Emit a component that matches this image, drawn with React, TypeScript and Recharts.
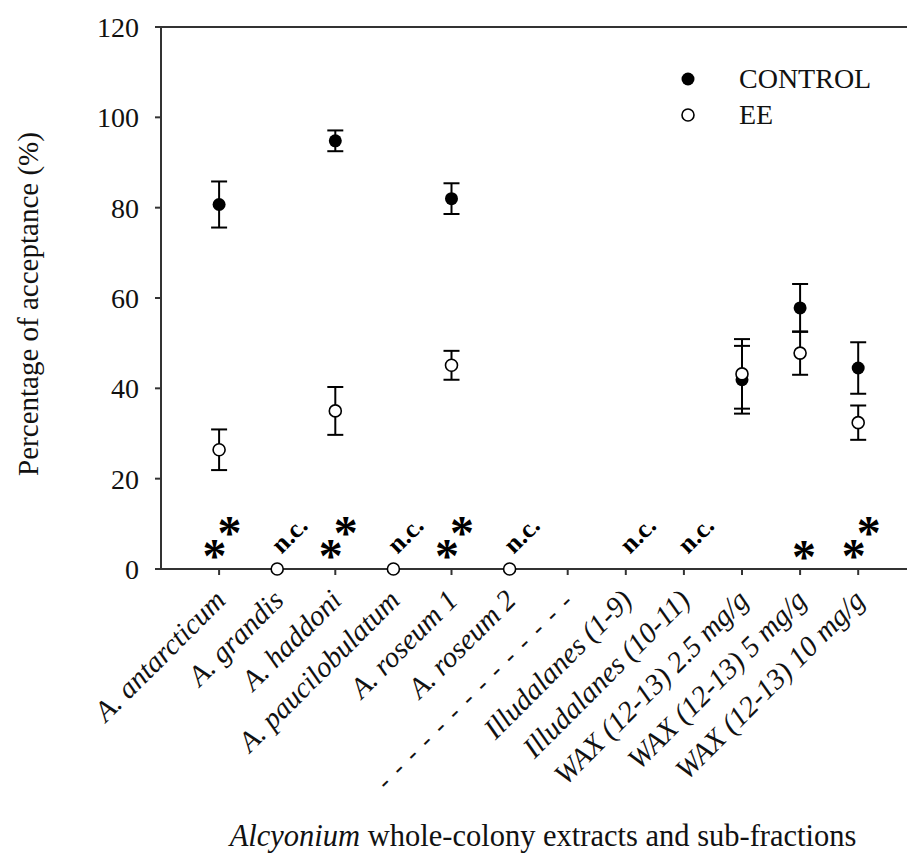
import React from 'react';
import { ScatterChart, Scatter, XAxis, YAxis, ErrorBar, ReferenceLine } from 'recharts';

const categories = [
  'A. antarcticum',
  'A. grandis',
  'A. haddoni',
  'A. paucilobulatum',
  'A. roseum 1',
  'A. roseum 2',
  '- - - - - - - - - - - - - -',
  'Illudalanes (1-9)',
  'Illudalanes (10-11)',
  'WAX (12-13) 2.5 mg/g',
  'WAX (12-13) 5 mg/g',
  'WAX (12-13) 10 mg/g',
];

const controlIdx = [0, 2, 4, 9, 10, 11];
const controlMean = [80.7, 94.8, 82.0, 41.9, 57.8, 44.5];
const controlSe = [5.1, 2.3, 3.4, 7.5, 5.3, 5.7];

const eeIdx = [0, 1, 2, 3, 4, 5, 9, 10, 11];
const eeMean = [26.4, 0, 35.0, 0, 45.1, 0, 43.2, 47.8, 32.4];
const eeSe = [4.5, 0, 5.3, 0, 3.2, 0, 7.7, 4.8, 3.8];

// significance marks above the x axis
const marks = ['**', 'n.c.', '**', 'n.c.', '**', 'n.c.', '', 'n.c.', 'n.c.', '', '*', '**'];

const yTicks = [0, 20, 40, 60, 80, 100, 120];
const xTicks = categories.map((_, i) => i);

const controlData = controlIdx.map((x, i) => ({ x, y: controlMean[i], se: controlSe[i] }));
const eeData = eeIdx.map((x, i) => ({ x, y: eeMean[i], se: eeSe[i] }));
const markData = marks.map((m, i) => ({ x: i, y: 0, mark: m })).filter(d => d.mark);

const serif = '"Liberation Serif", "Times New Roman", serif';

const CategoryTick = ({ x, y, payload }: any) => {
  const label = categories[payload.value];
  const ax = x + 8;
  const ay = y + 25;
  const isDash = payload.value === 6;
  return (
    <text
      x={ax}
      y={ay}
      transform={`rotate(-45, ${ax}, ${ay})`}
      textAnchor="end"
      fontFamily={serif}
      fontStyle="italic"
      fontSize={isDash ? 27 : 29}
      letterSpacing={isDash ? 2 : 0}
      fill="#111"
    >
      {label}
    </text>
  );
};

const FilledDot = ({ cx, cy }: any) => <circle cx={cx} cy={cy} r={6.5} fill="#000" />;
const OpenDot = ({ cx, cy }: any) => (
  <circle cx={cx} cy={cy} r={6} fill="#fff" stroke="#000" strokeWidth={1.6} />
);

const MarkShape = ({ cx, cy, payload }: any) => {
  const m = payload.mark;
  if (m === 'n.c.') {
    const tx = cx + 12;
    const ty = cy - 34;
    return (
      <text x={tx} y={ty} transform={`rotate(-45, ${tx}, ${ty})`} textAnchor="middle"
        dominantBaseline="central" fontFamily={serif} fontWeight="bold" fontSize={26} fill="#000">
        n.c.
      </text>
    );
  }
  if (m === '*') {
    return (
      <text x={cx + 4} y={cy + 4} textAnchor="middle" fontFamily={serif} fontWeight="bold" fontSize={48} fill="#000">*</text>
    );
  }
  return (
    <text x={cx + 3} y={cy + 3} textAnchor="middle" fontFamily={serif} fontWeight="bold" fontSize={48} fill="#000">
      *<tspan dx={-9} dy={-23}>*</tspan>
    </text>
  );
};

const LegendBox = () => (
  <div style={{ position: 'absolute', left: 675, top: 61, fontFamily: serif, fontSize: 28, color: '#111', lineHeight: '36px' }}>
    <div style={{ display: 'flex', alignItems: 'center' }}>
      <svg width={64} height={36}><circle cx={13} cy={18} r={6.5} fill="#000" /></svg>
      <span>CONTROL</span>
    </div>
    <div style={{ display: 'flex', alignItems: 'center' }}>
      <svg width={64} height={36}><circle cx={13} cy={18} r={6} fill="#fff" stroke="#000" strokeWidth={1.6} /></svg>
      <span>EE</span>
    </div>
  </div>
);

const YTitle = ({ viewBox }: any) => {
  const cx = 38;
  const cy = viewBox.y + viewBox.height / 2 + 6;
  return (
    <text x={cx} y={cy} transform={`rotate(-90, ${cx}, ${cy})`} textAnchor="middle"
      fontFamily={serif} fontSize={29} fill="#111">
      Percentage of acceptance (%)
    </text>
  );
};

const XTitle = ({ viewBox }: any) => (
  <text x={viewBox.x + viewBox.width / 2 + 9} y={viewBox.y + 277} textAnchor="middle"
    fontFamily={serif} fontSize={30.5} fill="#111">
    <tspan fontStyle="italic">Alcyonium</tspan> whole-colony extracts and sub-fractions
  </text>
);

export default function App() {
  return (
    <div style={{ position: 'absolute', left: 0, top: 0, width: 907, height: 859, background: '#fff', overflow: 'hidden' }}>
      <ScatterChart width={907} height={859} margin={{ top: 27, right: 0, bottom: 0, left: 0 }}>
        <XAxis
          type="number"
          dataKey="x"
          domain={[-1, 11.84]}
          ticks={xTicks}
          interval={0}
          allowDataOverflow
          height={290}
          tickSize={6}
          tick={<CategoryTick />}
          axisLine={{ stroke: '#333', strokeWidth: 2 }}
          tickLine={{ stroke: '#333', strokeWidth: 2 }}
          label={<XTitle />}
        />
        <YAxis
          type="number"
          dataKey="y"
          domain={[0, 120]}
          ticks={yTicks}
          width={161}
          tickSize={6}
          tickMargin={16}
          tick={{ fontFamily: serif, fontSize: 28, fill: '#111' }}
          axisLine={{ stroke: '#333', strokeWidth: 2 }}
          tickLine={{ stroke: '#333', strokeWidth: 2 }}
          label={<YTitle />}
        />
        <ReferenceLine y={120} stroke="#333" strokeWidth={2} />
        <Scatter name="marks" data={markData} shape={<MarkShape />} isAnimationActive={false} legendType="none" />
        <Scatter name="CONTROL" data={controlData} shape={<FilledDot />} isAnimationActive={false}>
          <ErrorBar dataKey="se" direction="y" width={8} stroke="#000" strokeWidth={2} />
        </Scatter>
        <Scatter name="EE" data={eeData} shape={<OpenDot />} isAnimationActive={false}>
          <ErrorBar dataKey="se" direction="y" width={8} stroke="#000" strokeWidth={2} />
        </Scatter>
      </ScatterChart>
      <LegendBox />
    </div>
  );
}
